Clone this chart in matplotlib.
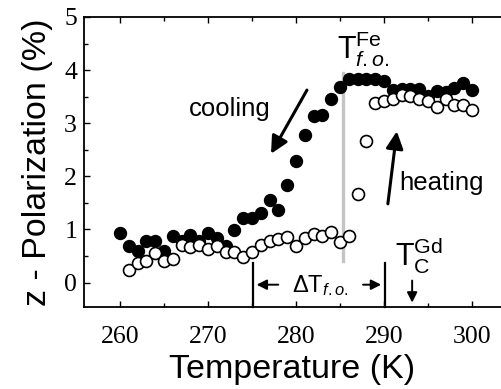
import matplotlib
matplotlib.use("Agg")
import matplotlib.pyplot as plt
from matplotlib.ticker import MultipleLocator

plt.rcParams['mathtext.fontset'] = 'custom'
plt.rcParams['mathtext.rm'] = 'Liberation Sans'
plt.rcParams['mathtext.it'] = 'Liberation Sans:italic'
plt.rcParams['mathtext.sf'] = 'Liberation Sans'

# Cooling (filled)
temp_cool = [260, 261, 262, 263, 264, 265, 266, 267, 268, 269, 270, 271, 272, 273,
             274, 275, 276, 277, 278, 279, 280, 281, 282, 283, 284, 285, 286, 287,
             288, 289, 290, 291, 292, 293, 294, 295, 296, 297, 298, 299, 300]
pol_cool = [0.93, 0.69, 0.59, 0.79, 0.79, 0.60, 0.87, 0.79, 0.89, 0.79, 0.94, 0.84,
            0.69, 0.99, 1.21, 1.21, 1.31, 1.56, 1.37, 1.84, 2.28, 2.77, 3.13, 3.15,
            3.46, 3.69, 3.84, 3.83, 3.84, 3.83, 3.79, 3.62, 3.65, 3.65, 3.65, 3.51,
            3.61, 3.59, 3.67, 3.76, 3.62]

# Heating (open)
temp_heat = [261, 262, 263, 264, 265, 266, 267, 268, 269, 270, 271, 272, 273, 274,
             275, 276, 277, 278, 279, 280, 281, 282, 283, 284, 285, 286, 287, 288,
             289, 290, 291, 292, 293, 294, 295, 296, 297, 298, 299, 300]
pol_heat = [0.24, 0.37, 0.40, 0.55, 0.40, 0.44, 0.71, 0.67, 0.71, 0.63, 0.68, 0.57,
            0.57, 0.48, 0.57, 0.71, 0.79, 0.82, 0.86, 0.68, 0.84, 0.92, 0.88, 0.96,
            0.76, 0.87, 1.66, 2.66, 3.39, 3.42, 3.46, 3.54, 3.51, 3.46, 3.42, 3.31,
            3.45, 3.35, 3.34, 3.25]

x_ticks = [260, 270, 280, 290, 300]
y_ticks = [0, 1, 2, 3, 4, 5]

fig = plt.figure(figsize=(5.01, 3.89), dpi=100)
ax = fig.add_axes([0.1677, 0.2108, 0.8323, 0.7455])
ax.set_xlim(255.9, 303.3)
ax.set_ylim(-0.46, 5.0)

# grey line for T_fo
ax.plot([285.3, 285.3], [0.40, 3.95], color='#c4c4c4', lw=2.4, zorder=1)

ax.plot(temp_heat, pol_heat, 'o', ms=8.6, mfc='white', mec='black', mew=1.2, zorder=3)
ax.plot(temp_cool, pol_cool, 'o', ms=8.6, mfc='black', mec='black', zorder=2)

# Delta T markers
for xv in (275.1, 290.1):
    ax.plot([xv, xv], [0.37, -0.46], color='black', lw=1.6, zorder=2, clip_on=False)
ax.annotate('', xy=(275.2, -0.04), xytext=(278.3, -0.04),
            arrowprops=dict(arrowstyle='-|>', color='black', lw=1.4, mutation_scale=15))
ax.annotate('', xy=(290.0, -0.04), xytext=(287.3, -0.04),
            arrowprops=dict(arrowstyle='-|>', color='black', lw=1.4, mutation_scale=15))
ax.text(282.8, -0.06, r'$\Delta\mathrm{T}_{\mathit{f.o.}}$', fontsize=17,
        ha='center', va='center')

# T_C Gd
ax.annotate('', xy=(293.2, -0.43), xytext=(293.2, 0.09),
            arrowprops=dict(arrowstyle='-|>', color='black', lw=1.4, mutation_scale=15))
ax.text(294.0, 0.50, r'$\mathrm{T}_{\mathrm{C}}^{\mathrm{Gd}}$', fontsize=22,
        ha='center', va='center')

# T_fo Fe
ax.text(287.6, 4.40, r'$\mathrm{T}_{\mathit{f.o.}}^{\mathrm{Fe}}$', fontsize=22,
        ha='center', va='center')

# cooling / heating
ax.text(272.5, 3.26, 'cooling', fontsize=18.5, family='Liberation Sans',
        ha='center', va='center')
ax.annotate('', xy=(277.0, 2.38), xytext=(281.4, 3.67),
            arrowprops=dict(arrowstyle='-|>', color='black', lw=2.2, mutation_scale=26))
ax.text(296.5, 1.88, 'heating', fontsize=18.5, family='Liberation Sans',
        ha='center', va='center')
ax.annotate('', xy=(291.5, 2.90), xytext=(290.4, 1.43),
            arrowprops=dict(arrowstyle='-|>', color='black', lw=2.2, mutation_scale=26))

ax.set_xticks(x_ticks)
ax.set_yticks(y_ticks)
ax.xaxis.set_minor_locator(MultipleLocator(5))
ax.yaxis.set_minor_locator(MultipleLocator(0.5))
ax.tick_params(which='both', direction='in', top=True, right=False, width=1.0)
ax.tick_params(which='major', length=4)
ax.tick_params(which='minor', length=3)
ax.tick_params(axis='x', pad=14)
ax.tick_params(axis='y', pad=5)
for lab in ax.get_xticklabels() + ax.get_yticklabels():
    lab.set_family('Liberation Serif')
    lab.set_fontsize(18.5)
ax.spines['right'].set_visible(False)
for s in ('left', 'top', 'bottom'):
    ax.spines[s].set_linewidth(1.3)

ax.set_xlabel('Temperature (K)', fontsize=24.5, family='Liberation Sans', labelpad=4)
ax.set_ylabel('z - Polarization (%)', fontsize=24.5, family='Liberation Sans', labelpad=8)

fig.savefig('out.png', dpi=100)
